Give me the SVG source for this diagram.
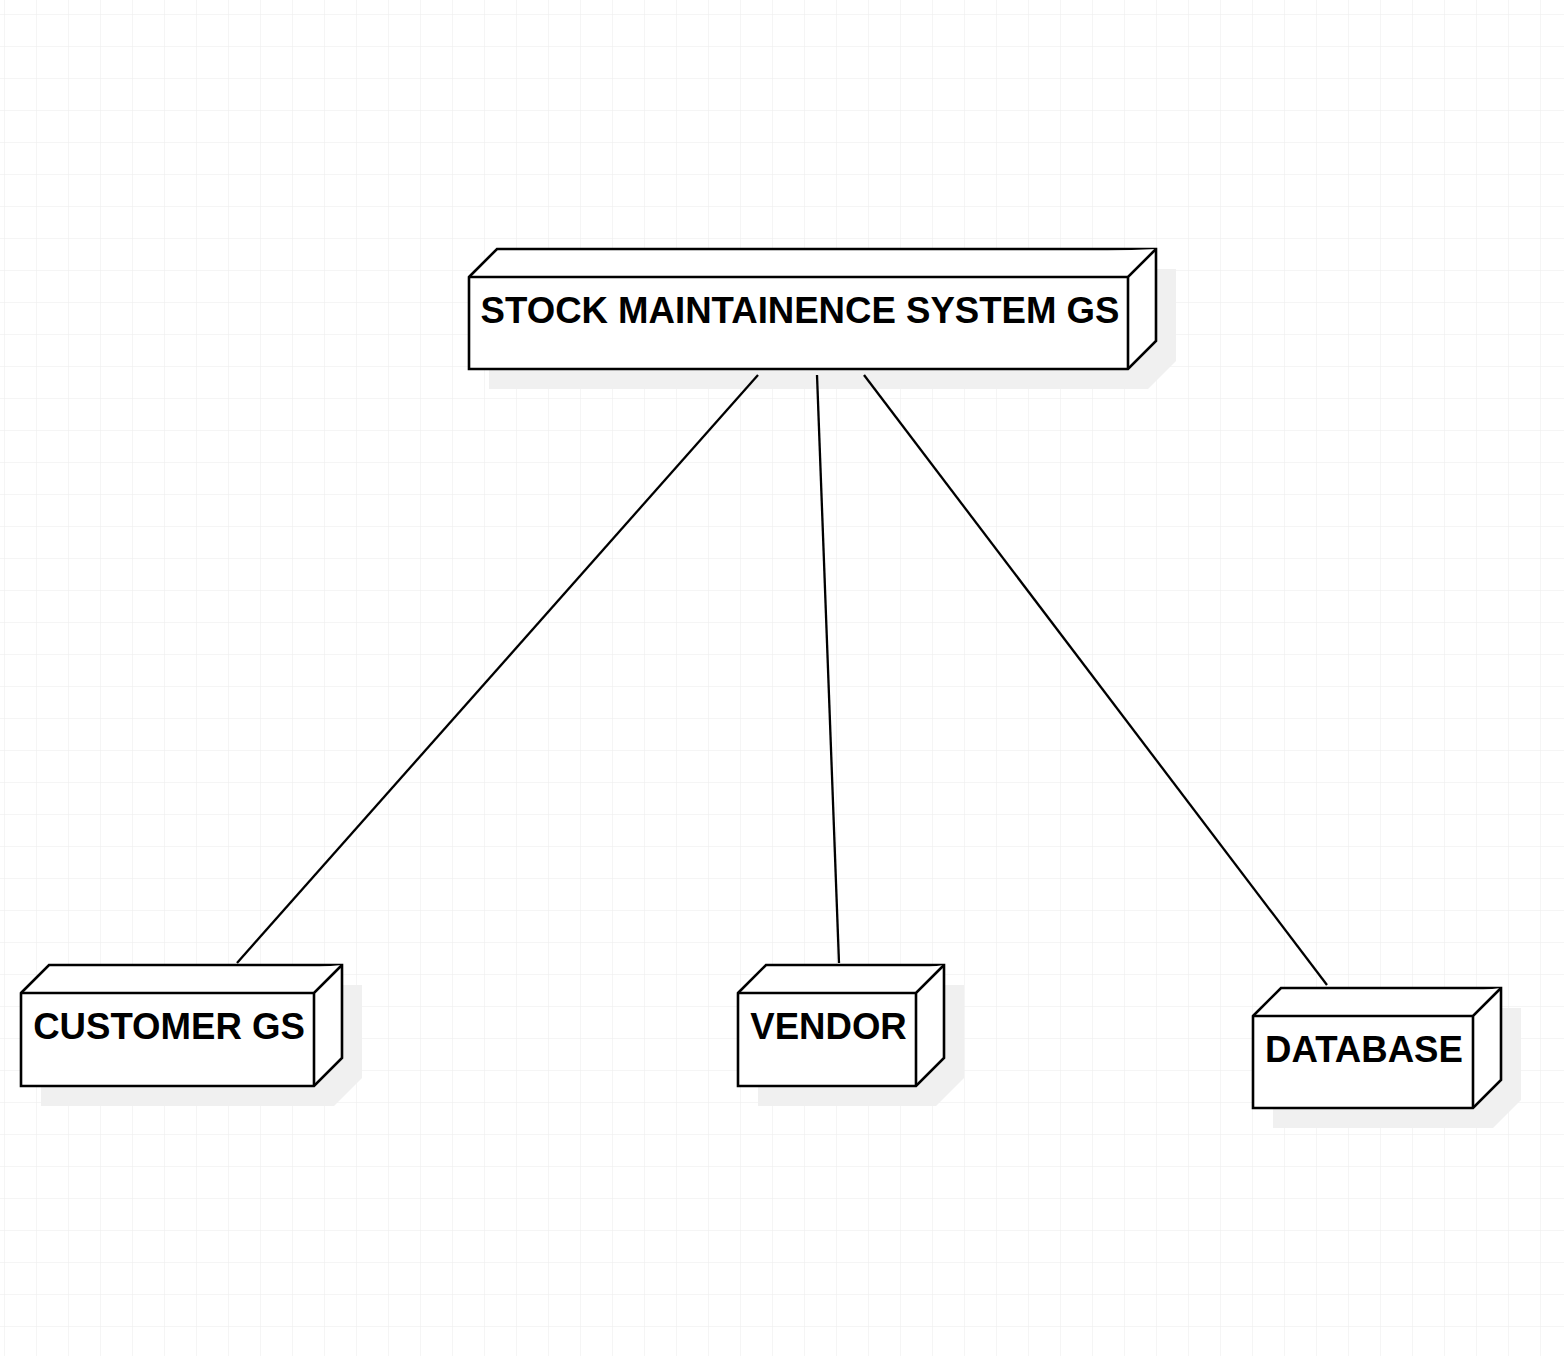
<svg xmlns="http://www.w3.org/2000/svg" width="1564" height="1356" viewBox="0 0 1564 1356">
<defs>
<pattern id="grid" x="4" y="14" width="32" height="32" patternUnits="userSpaceOnUse">
<path d="M0 0H32M0 0V32" fill="none" stroke="#ececec" stroke-width="1"/>
</pattern>
</defs>
<style>
.shadow{fill:#f0f0f0;stroke:none}
.box{fill:#ffffff;stroke:#000000;stroke-width:2.6;stroke-linejoin:miter}
.lbl{font-family:"Liberation Sans",Arial,sans-serif;font-weight:bold;font-size:36.6px;fill:#000000;text-anchor:middle}
.conn{stroke:#000000;stroke-width:2.3;fill:none}
</style>
<rect width="1564" height="1356" fill="#ffffff"/>
<rect width="1564" height="1356" fill="url(#grid)"/>
<g id="node-stock">
<polygon class="shadow" points="489,297 517,269 1176,269 1176,361 1148,389 489,389"/>
<polygon class="box" points="469,277 497,249 1156,249 1156,341 1128,369 469,369"/>
<path class="box" d="M469 277H1128L1156 249M1128 277V369" fill="none"/>
<text class="lbl" x="800" y="323">STOCK MAINTAINENCE SYSTEM GS</text>
</g>
<g id="node-customer">
<polygon class="shadow" points="41,1013 69,985 362,985 362,1078 334,1106 41,1106"/>
<polygon class="box" points="21,993 49,965 342,965 342,1058 314,1086 21,1086"/>
<path class="box" d="M21 993H314L342 965M314 993V1086" fill="none"/>
<text class="lbl" x="169" y="1039">CUSTOMER GS</text>
</g>
<g id="node-vendor">
<polygon class="shadow" points="758,1013 786,985 964,985 964,1078 936,1106 758,1106"/>
<polygon class="box" points="738,993 766,965 944,965 944,1058 916,1086 738,1086"/>
<path class="box" d="M738 993H916L944 965M916 993V1086" fill="none"/>
<text class="lbl" x="828.5" y="1039">VENDOR</text>
</g>
<g id="node-database">
<polygon class="shadow" points="1273,1036 1301,1008 1521,1008 1521,1100 1493,1128 1273,1128"/>
<polygon class="box" points="1253,1016 1281,988 1501,988 1501,1080 1473,1108 1253,1108"/>
<path class="box" d="M1253 1016H1473L1501 988M1473 1016V1108" fill="none"/>
<text class="lbl" x="1364" y="1062">DATABASE</text>
</g>
<g id="connectors">
<line class="conn" x1="758" y1="375" x2="237" y2="963"/>
<line class="conn" x1="817" y1="375" x2="839" y2="963"/>
<line class="conn" x1="864" y1="375" x2="1327" y2="985"/>
</g>
</svg>
